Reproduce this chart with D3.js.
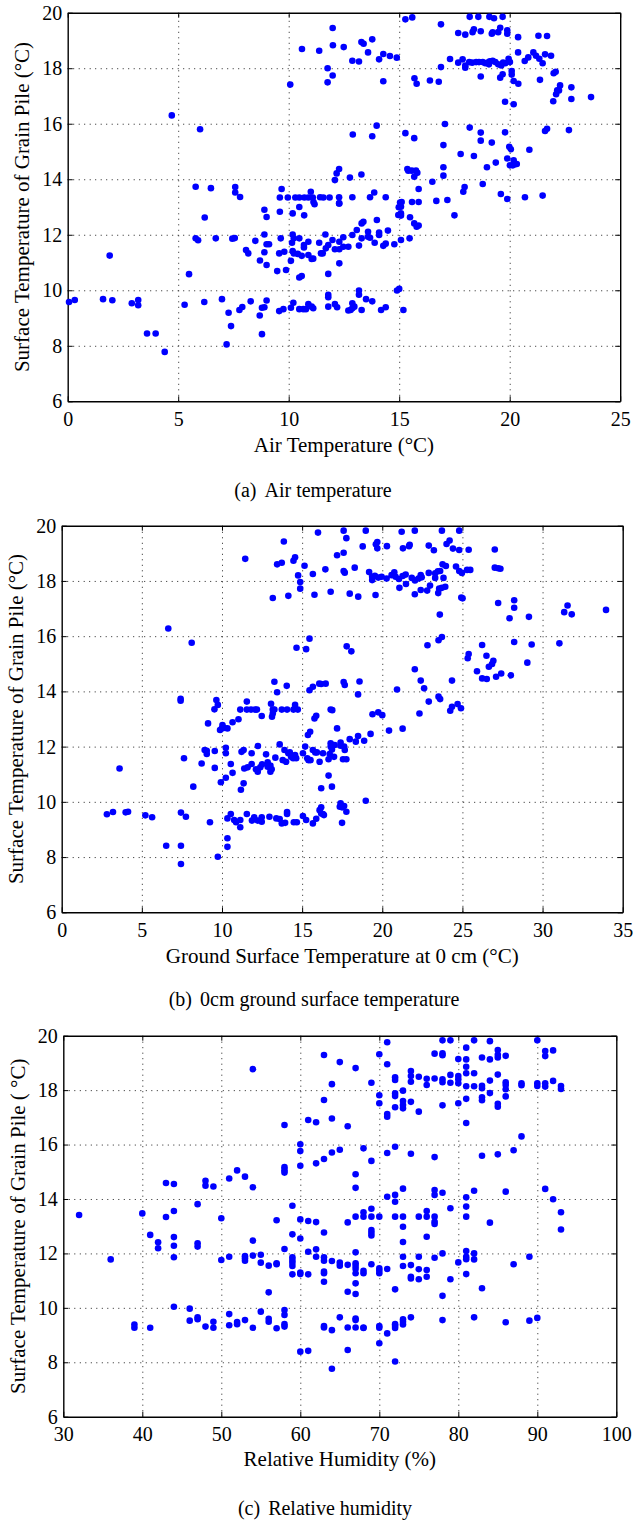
<!DOCTYPE html>
<html>
<head>
<meta charset="utf-8">
<script src="https://cdn.jsdelivr.net/npm/d3@7"></script>
<style>
  body { margin: 0; background: #fff; }
  text { font-family: "Liberation Serif", "Times New Roman", serif; fill: #000; }
</style>
</head>
<body>
<div id="chart"></div>
<script>
// tick values
const yTicks = [6, 8, 10, 12, 14, 16, 18, 20];
const airTicks = [0, 5, 10, 15, 20, 25];
const groundTicks = [0, 5, 10, 15, 20, 25, 30, 35];
const humidityTicks = [30, 40, 50, 60, 70, 80, 90, 100];

// (a) air temperature vs surface temperature of grain pile
const airPoints = [
  [4.71,16.3],[5.99,15.8],[5.79,13.73],[6.48,13.68],[7.58,13.72],[7.58,13.52],[7.8,13.36],[8.9,12.9],[9.6,12.83],
  [9.6,13.34],[9.68,13.65],[9.96,13.34],[10.3,13.34],[10.07,17.41],[10.6,18.69],[11.38,18.63],[11.76,18.0],[11.76,17.49],
  [10.18,12.77],[10.48,13.0],[10.48,13.34],[10.71,13.34],[10.89,13.34],[11.0,13.55],[11.09,13.34],[11.12,13.18],
  [11.17,13.1],[11.57,13.34],[11.85,13.34],[10.7,12.7],
  [15.28,19.76],[15.59,19.83],[16.89,19.58],[18.19,19.85],[18.58,19.85],[19.08,19.85],[19.29,19.8],[19.68,19.85],
  [11.99,19.45],[12.0,18.83],[12.49,18.76],[13.29,18.94],[13.39,18.88],[13.78,19.04],[13.59,18.57],
  [12.88,18.27],[13.18,18.24],[14.09,18.32],[14.28,18.51],[14.58,18.44],[14.89,18.38],[11.99,17.74],
  [14.28,17.53],[15.69,17.64],[15.79,17.44],[16.39,17.56],[16.79,17.51],[16.89,18.04],[17.3,18.33],
  [17.67,19.27],[17.99,19.21],[18.32,19.3],[18.38,19.4],[18.69,19.33],
  [19.19,19.24],[19.23,19.29],[19.48,19.3],[19.57,19.46],[19.89,19.37],[19.89,19.24],
  [17.67,18.2],[17.87,18.32],[17.99,18.1],[17.99,18.02],[18.17,18.22],[18.3,18.2],[18.48,18.22],[18.61,18.22],
  [18.78,18.22],[18.9,18.18],[19.0,18.2],[19.06,18.14],[19.1,18.25],[19.23,18.27],[19.35,18.22],[19.48,18.14],
  [19.62,18.1],[19.7,18.2],[19.8,18.18],[19.95,18.34],[20.01,18.22],
  [18.69,17.7],[19.57,17.66],[19.68,17.78],[20.09,17.9],[20.09,17.77],[20.18,17.54],[20.39,17.44],
  [20.38,19.12],[20.38,18.57],[21.3,19.17],[21.69,19.16],
  [20.68,18.26],[20.84,18.39],[21.07,18.57],[21.19,18.45],[21.34,18.34],[21.49,18.18],[21.6,18.5],[21.87,18.45],
  [21.37,17.58],[21.99,17.82],[22.08,17.87],[22.28,17.38],[22.23,17.2],[22.15,17.2],[22.1,17.06],[21.97,16.81],
  [22.79,17.31],[22.79,16.89],[23.68,16.96],[19.79,16.79],[20.18,16.7],
  [17.07,15.99],[18.19,15.86],[18.69,15.68],[18.69,15.39],[19.19,15.32],[19.79,15.69],[19.98,15.17],[20.05,15.08],
  [20.89,15.06],[21.6,15.74],[21.69,15.82],[22.68,15.77],
  [15.28,15.66],[15.68,15.48],[17.0,15.23],[12.9,15.61],[13.78,15.55],[13.98,15.93],
  [17.78,14.91],[18.38,14.84],
  [19.89,14.75],[20.01,14.5],[20.18,14.68],[20.24,14.54],[20.14,14.5],[20.32,14.55],
  [19.37,14.6],[18.97,14.43],[18.78,13.83],[19.6,13.47],[19.89,13.29],[20.69,13.35],[21.49,13.41],
  [16.5,13.91],[17.9,13.55],[17.96,13.72],[17.0,14.43],[17.0,14.13],[15.88,13.65],[16.68,13.22],[17.18,13.25],
  [15.37,14.37],[15.41,14.31],[15.57,14.31],[15.76,14.31],[15.68,14.09],[15.82,14.23],
  [15.04,13.16],[15.11,13.18],[15.58,13.18],[15.88,13.18],[14.98,12.99],[15.08,12.77],[17.5,12.7],
  [11.42,13.35],[12.28,13.35],[12.28,13.13],[12.88,13.35],[13.68,13.35],[13.87,13.52],[14.39,13.35],
  [12.09,13.97],[12.17,14.21],[12.28,14.37],[12.77,14.06],[13.29,14.17],
  [0.06,9.58],[0.32,9.65],[1.6,9.68],[2.02,9.64],[1.9,11.25],[2.9,9.53],[3.19,9.65],[3.19,9.46],[3.59,8.44],
  [3.98,8.44],[4.39,7.78],[5.29,9.48],[5.49,10.58],[6.18,9.58],[6.2,12.62],[5.79,11.87],[5.9,11.8],[6.7,11.87],
  [6.98,9.68],[7.45,11.86],[7.56,11.88],[7.19,8.05],[7.28,9.19],[7.39,8.71],[7.77,9.29],[7.9,9.4],[8.28,9.6],
  [8.49,11.78],[8.07,11.45],[8.17,11.33],[8.7,11.07],[8.69,9.09],[8.79,8.42],[8.79,9.37],[8.9,9.39],[9.0,9.63],
  [9.0,12.64],[8.9,12.01],[8.9,11.37],[9.0,10.91],[9.0,11.66],[9.11,11.66],[9.64,11.87],[9.57,11.33],[9.8,11.39],
  [9.48,10.69],[9.88,10.73],[9.57,9.25],[9.76,9.32],
  [10.18,12.01],[10.23,11.87],[10.15,11.71],[10.18,11.41],[10.23,11.33],[10.1,11.06],[10.41,11.31],
  [10.48,11.87],[10.69,11.63],[10.69,11.54],[10.89,11.75],[10.59,11.24],[10.48,10.46],[10.59,10.51],
  [10.1,9.37],[10.21,9.55],[10.48,9.32],[10.66,9.32],[10.78,9.32],[10.89,9.5],[11.04,9.41],[11.11,9.35],
  [10.89,11.27],[11.04,11.13],[11.11,11.14],
  [11.38,11.71],[11.46,11.33],[11.54,11.33],[11.66,12.01],[11.79,11.63],[11.79,10.59],[11.79,9.84],[11.79,9.75],[11.79,9.41],
  [12.09,9.5],[12.19,9.39],[12.29,10.97],[12.7,9.27],[12.8,9.29],[12.88,9.35],[12.97,9.41],[12.88,9.53],
  [13.18,9.99],[13.18,9.84],[13.3,9.29],[13.5,9.68],[13.78,9.6],[14.18,9.29],[14.39,9.39],[14.9,9.99],[15.0,10.05],[15.19,9.29],
  [11.68,11.51],[11.98,11.81],[12.09,11.48],[12.29,11.75],[12.29,11.48],[12.47,11.91],[12.47,11.57],
  [12.7,11.57],[12.88,11.99],[13.08,12.17],[13.18,11.61],[13.3,11.87],[13.3,12.41],[13.38,12.47],[13.59,12.11],
  [13.59,11.93],[13.68,11.89],[13.89,11.71],[13.99,12.53],[14.09,12.08],[14.09,11.99],[14.28,11.6],[14.39,11.68],
  [14.49,12.15],[14.78,11.66],[15.08,11.81],[15.47,11.87],[15.08,13.01],[14.96,12.71],[15.08,12.69],[15.49,12.63],
  [15.68,12.41],[15.79,12.29],[15.88,12.33],[12.29,13.13]
];

// (b) ground surface temperature at 0 cm vs surface temperature of grain pile
const groundPoints = [
  [6.65,16.28],[8.11,15.76],[7.42,13.73],[7.42,13.66],[9.53,13.35],[9.65,13.69],[9.74,13.51],[9.13,12.84],
  [10.03,12.78],[10.66,12.88],[11.03,12.99],[11.14,13.34],[11.55,13.63],[11.55,13.34],[11.81,13.34],[12.06,13.34],
  [12.18,13.34],[12.48,13.11],
  [11.45,18.8],[13.17,17.38],[13.44,18.6],[13.73,18.66],[13.86,19.43],[14.14,17.46],[14.46,18.73],[14.56,18.86],
  [14.75,18.2],[14.88,17.96],[14.88,17.72],[15.15,18.55],[15.99,19.75],[15.67,18.25],[15.77,17.5],[16.45,18.42],[16.78,17.61],
  [14.65,15.58],[15.25,15.53],[15.46,15.91],[13.27,14.35],[14.04,14.2],[13.44,13.97],[15.46,14.04],[15.67,14.17],
  [16.07,14.28],[16.47,14.28],
  [13.06,13.55],[13.17,13.34],[13.17,13.2],[13.27,13.34],[13.73,13.34],[14.06,13.34],[14.46,13.34],[14.56,13.51],[14.73,13.34],
  [15.77,13.02],[15.88,13.12],[16.78,13.34],
  [17.59,19.82],[18.97,19.82],[17.76,19.55],[17.18,18.93],[17.59,19.02],[18.78,19.25],[19.6,19.33],[19.69,19.41],
  [19.69,19.18],[20.29,19.26],[21.21,19.78],[22.03,19.82],[23.72,19.82],[24.8,19.82],
  [21.29,19.18],[21.67,19.26],[21.71,19.31],[22.9,19.28],[23.22,19.11],[24.01,19.34],[24.2,19.46],[24.41,19.17],
  [24.8,19.12],[25.39,19.13],[27.02,19.14],
  [17.59,18.36],[17.66,18.3],[18.28,18.48],[17.97,17.54],[18.5,17.43],[19.58,17.49],
  [19.18,18.32],[19.37,18.15],[19.37,18.03],[19.54,18.19],[19.75,18.12],[19.96,18.15],[20.27,18.09],[20.58,18.21],
  [20.75,18.31],[20.83,18.15],[21.04,18.07],[21.27,18.18],[21.46,18.23],[21.84,18.11],[22.04,18.02],[22.26,18.09],
  [22.4,18.21],[22.46,18.13],[22.9,18.29],[23.3,18.28],[23.3,18.11],[23.47,18.35],[23.61,18.36],[23.82,18.11],
  [23.76,18.6],[23.97,18.54],[24.6,18.52],[24.8,18.36],[24.97,18.29],[25.29,18.4],[25.49,18.4],
  [21.07,17.75],[21.48,17.89],[22.03,17.52],[22.4,17.67],[22.8,17.65],[22.98,17.83],[23.49,17.56],[23.55,17.72],
  [23.72,17.75],[23.93,17.79],[24.93,17.4],[25.01,17.37],
  [23.59,16.78],[27.02,18.48],[27.23,18.46],[27.37,18.44],[27.23,17.2],[28.23,17.3],[28.23,17.03],[27.94,16.65],
  [29.15,16.7],[31.35,16.87],[31.56,17.11],[31.82,16.79],[33.96,16.95],
  [17.78,15.63],[18.07,15.45],[22.82,15.67],[23.51,15.85],[23.72,15.97],
  [25.33,15.2],[25.39,15.35],[26.23,15.68],[26.5,15.29],[26.65,14.89],[26.85,14.99],[26.93,15.11],[25.91,14.73],
  [26.23,14.47],[26.52,14.45],[27.1,14.53],[27.42,14.65],[28.02,14.58],[28.23,15.79],[29.32,15.7],[29.05,15.04],[31.05,15.74],
  [16.19,14.27],[17.59,14.34],[17.66,14.23],[18.58,14.36],[18.49,13.89],[16.88,13.32],
  [19.39,13.17],[19.75,13.24],[20.0,13.14],[20.92,14.07],[22.03,14.8],[22.4,14.39],[22.61,14.11],[22.9,13.63],
  [22.32,13.2],[23.51,13.81],[23.61,13.72],[24.35,14.39],[24.24,13.3],[24.35,13.44],[24.7,13.54],[24.91,13.39],
  [2.82,9.55],[3.2,9.63],[3.61,11.21],[3.99,9.62],[4.14,9.64],[5.22,9.51],[5.64,9.44],[6.52,8.41],[7.44,8.41],
  [7.44,7.75],[7.44,9.61],[7.75,9.46],[7.63,11.58],[8.21,10.55],[8.73,11.39],[8.92,11.88],[9.05,11.73],[9.05,11.85],
  [9.55,11.84],[9.55,11.23],[9.25,9.26],[9.74,8.01],[9.88,12.6],[9.99,12.66],[10.13,12.68],[10.34,12.66],
  [10.24,11.96],[10.24,11.76],[9.93,10.71],[10.24,10.87],[10.34,8.68],[10.34,8.37],
  [10.34,9.4],[10.55,9.56],[10.76,9.34],[10.88,9.26],[11.14,9.08],[11.14,9.34],[11.55,9.56],
  [10.55,11.37],[10.66,11.05],[11.18,10.44],[11.35,10.67],
  [11.22,11.81],[11.35,11.88],[11.39,11.21],[11.6,11.25],[11.85,11.37],[11.85,11.76],[12.12,11.18],[12.24,12.02],
  [12.23,11.09],[12.39,11.25],[12.5,11.36],[12.75,11.72],[12.85,11.43],[12.85,11.27],[13.02,11.31],[13.02,11.09],
  [13.1,11.18],[13.12,13.08],
  [11.87,9.32],[12.01,9.44],[12.23,9.32],[12.48,9.44],[12.48,9.28],[12.96,9.46],[13.39,9.4],[13.6,9.38],[13.73,9.22],
  [13.94,9.24],[14.06,9.63],[14.06,9.56],[14.48,9.26],[14.67,9.26],[15.05,9.49],[15.25,9.34],[15.67,9.22],[15.88,9.39],
  [16.09,9.7],[16.19,9.58],[16.36,9.52],
  [13.33,11.6],[13.6,12.08],[13.79,11.51],[14.0,11.45],[13.9,11.88],[14.14,11.76],[14.23,11.79],[14.31,11.63],
  [14.44,11.58],[14.56,11.69],[14.63,11.58],[15.05,11.76],[15.19,12.0],[15.32,11.58],[15.4,11.51],[15.52,11.51],
  [15.67,11.88],[15.82,11.79],[15.92,11.79],[16.09,11.45],[16.3,11.76],[15.36,12.42],[15.5,12.54],
  [17.18,12.66],[20.42,12.58],[21.27,12.65],
  [17.97,12.27],[18.35,12.18],[18.49,12.38],[18.87,12.21],[19.27,12.46],
  [16.78,12.12],[16.78,12.0],[17.03,12.06],[17.4,12.15],[17.4,12.03],[17.62,12.0],[17.66,11.88],[16.86,11.9],
  [16.72,11.73],[16.99,11.63],[16.65,11.54],[17.55,11.54],[17.76,11.54],
  [16.65,10.95],[16.86,10.55],[16.19,10.49],[18.97,10.04],[17.4,9.95],[17.49,9.8],[17.35,9.82],[17.76,9.64],
  [17.62,9.85],[17.49,9.24],[16.19,9.8],[16.3,9.56]
];

// (c) relative humidity vs surface temperature of grain pile
const humidityPoints = [
  [32,13.41],[40,13.47],[41,12.68],[43,14.59],[43,13.34],[44,14.55],[44,13.56],[47,13.81],[48,14.67],[48,14.49],
  [49,14.46],[50,13.29],[51,14.75],[52,15.05],[53,14.82],[54,14.43],[54,18.77],[57,13.22],[58,16.72],[58,15.17],
  [58,15.06],[58,14.97],[59,13.75],[59,12.7],[60,16.01],[60,15.76],[60,15.22],[60,13.25],[61,16.9],[61,13.19],
  [62,16.82],[62,15.31],[62,13.15],[63,19.29],[63,17.64],[63,15.47],[63,12.77],[64,18.22],[64,16.96],[64,15.71],
  [65,19.03],[67,18.81],[69,18.27],[70,19.32],[71,19.76],[71,18.95],[70,17.81],[70,17.52],[72,18.47],[72,18.37],
  [72,17.88],[72,17.78],[72,17.37],[71,17.12],[71,17.02],[73,17.98],[73,17.6],[73,17.45],[73,17.33],[74,18.7],
  [74,18.52],[74,18.31],[74,17.57],[75,18.49],[75,17.21],[76,18.42],[76,18.19],[77,19.34],[77,18.43],[78,19.83],
  [78,19.35],[78,19.28],[78,18.4],[78,18.29],[78,17.44],[79,19.83],[79,18.56],[79,18.27],[80,19.14],[80,18.52],
  [80,18.4],[80,18.25],[80,17.52],[81,19.56],[81,19.13],[81,18.86],[81,18.62],[81,18.14],[81,17.68],[81,16.79],
  [82,19.83],[82,18.62],[82,18.14],[83,19.2],[83,18.16],[83,18.07],[83,17.74],[83,17.63],[84,19.8],[84,19.13],
  [84,18.35],[84,17.89],[85,19.47],[85,19.3],[85,19.2],[85,18.57],[85,17.5],[85,17.39],[86,19.26],[86,18.29],
  [86,18.19],[86,18.03],[86,17.77],[88,18.25],[88,18.18],[90,19.83],[90,18.25],[90,18.15],[91,18.25],[91,18.13],
  [92,18.34],[93,18.15],[93,18.04],[91,19.44],[91,19.25],[92,19.46],
  [88,16.3],[87,15.79],[85,15.64],[83,15.59],[77,15.54],[74,15.66],[72,15.92],[71,15.69],[66,16.67],[65,15.81],
  [68,15.86],[69,15.4],[67,14.91],[67,14.41],[66,13.14],[67,13.35],[68,13.51],[68,13.35],[69,13.64],[69,13.35],
  [70,13.35],[71,14.08],[72,14.15],[72,13.9],[73,14.38],[72,13.35],[73,13.35],[73,12.98],[75,13.35],[76,13.56],
  [76,13.35],[77,14.33],[77,14.15],[77,13.35],[77,13.16],[77,13.08],[78,14.23],[79,13.66],[81,14.06],[81,13.72],
  [81,13.35],[82,14.3],[84,13.13],[86,14.27],[91,14.37],[92,13.99],[93,13.51],[93,12.88],
  [36,11.78],[39,9.39],[39,9.27],[41,9.27],[42,12.41],[42,12.19],[44,12.6],[44,12.28],[44,11.86],[44,10.04],
  [46,9.97],[46,9.53],[47,12.37],[47,12.25],[47,9.65],[47,9.58],[48,9.31],[49,9.49],[49,9.27],[50,11.76],
  [51,11.88],[51,9.77],[51,9.36],[52,9.48],[52,9.4],[53,11.9],[53,11.82],[53,11.73],[53,9.55],[54,12.47],
  [54,11.92],[54,9.27],[55,11.95],[55,11.66],[55,9.86],[56,11.55],[56,10.57],[56,9.6],[56,9.49],[57,11.64],
  [57,11.6],[57,9.25],[58,9.92],[58,9.74],[58,9.4],[58,9.31],[58,12.16],[59,11.86],[59,11.76],[59,11.66],
  [59,11.54],[59,11.23],[60,12.55],[60,11.3],[60,11.24],[60,8.39],[61,12.06],[61,11.23],[61,8.42],[62,12.15],
  [62,11.88],[63,11.86],[63,11.73],[63,11.33],[63,11.27],[63,10.96],[63,9.33],[63,9.28],
  [64,11.72],[65,11.66],[65,11.55],[66,11.58],[66,10.59],[67,12.04],[67,11.64],[67,11.54],[67,11.43],[67,11.27],
  [67,10.9],[67,10.51],[68,11.36],[68,11.27],[69,12.86],[69,12.76],[69,12.66],[69,11.6],[70,11.45],[70,11.36],
  [70,11.27],[71,11.43],[72,10.68],[73,12.42],[73,11.88],[73,11.54],[74,11.57],[74,11.14],[74,11.08],[75,11.88],
  [75,11.42],[75,11.05],[76,12.61],[76,11.39],[76,11.14],[77,11.84],[78,12.0],[78,10.44],[78,9.55],[79,11.05],
  [80,11.67],[81,12.09],[81,11.88],[81,11.79],[81,11.24],[82,12.0],[82,11.78],[82,9.65],[83,10.72],[87,11.6],
  [89,11.88],[86,9.47],[89,9.53],[90,9.63],[64,9.18],[65,9.65],[66,9.28],[66,8.45],[67,9.61],[67,9.55],
  [67,9.28],[68,9.28],[68,9.26],[70,9.33],[70,9.27],[70,8.7],[71,9.06],[72,9.4],[72,9.33],[72,9.26],
  [72,8.03],[73,9.58],[73,9.49],[73,9.39],[74,9.65],[64,7.76]
];

const FONT = '"Liberation Serif", "Times New Roman", serif';

class ScatterPanel {
  constructor(_data, _svg, _config) {
    this.data = _data;
    this.svg = _svg;
    this.config = _config;
    this.initVis();
  }

  initVis() {
    let vis = this;
    let c = vis.config;

    vis.g = vis.svg.append('g')
      .attr('transform', `translate(${c.left}, ${c.top})`);

    vis.x = d3.scaleLinear().domain(c.xDomain).range([0, c.width]);
    vis.y = d3.scaleLinear().domain([6, 20]).range([c.height, 0]);

    // dotted grid at the inner ticks
    vis.g.append('g')
      .attr('class', 'grid')
      .attr('transform', `translate(0, ${c.height})`)
      .call(d3.axisBottom(vis.x).tickValues(c.xTicks.slice(1, -1)).tickSize(-c.height).tickFormat(''))
      .call(g => g.select('.domain').remove());
    vis.g.append('g')
      .attr('class', 'grid')
      .call(d3.axisLeft(vis.y).tickValues(yTicks.slice(1, -1)).tickSize(-c.width).tickFormat(''))
      .call(g => g.select('.domain').remove());
    vis.g.selectAll('.grid line')
      .attr('stroke', '#222')
      .attr('stroke-width', 1)
      .attr('stroke-dasharray', '1,4.5');

    // axes with inward ticks on all four sides
    vis.g.append('g')
      .attr('class', 'axis')
      .attr('transform', `translate(0, ${c.height})`)
      .call(d3.axisBottom(vis.x).tickValues(c.xTicks).tickSize(-5).tickSizeOuter(0).tickPadding(10.5));
    vis.g.append('g')
      .attr('class', 'axis')
      .call(d3.axisLeft(vis.y).tickValues(yTicks).tickSize(-5).tickSizeOuter(0).tickPadding(5.5));
    vis.g.append('g')
      .attr('class', 'axis')
      .call(d3.axisTop(vis.x).tickValues(c.xTicks).tickSize(-5).tickSizeOuter(0).tickFormat(''));
    vis.g.append('g')
      .attr('class', 'axis')
      .attr('transform', `translate(${c.width}, 0)`)
      .call(d3.axisRight(vis.y).tickValues(yTicks).tickSize(-5).tickSizeOuter(0).tickFormat(''));

    vis.g.selectAll('.axis')
      .attr('font-family', FONT)
      .attr('font-size', 20);
    vis.g.selectAll('.axis .domain').attr('stroke', '#000').attr('stroke-width', 1.4);
    vis.g.selectAll('.axis .tick line').attr('stroke', '#000');
    vis.g.selectAll('.axis text').attr('fill', '#000');

    // axis titles and caption
    vis.svg.append('text')
      .attr('x', c.left + c.width / 2)
      .attr('y', c.xLabelY)
      .style('font-size', '21px')
      .style('text-anchor', 'middle')
      .text(c.xLabel);
    vis.svg.append('text')
      .attr('transform', `translate(${c.yLabelX}, ${c.top + c.height / 2}) rotate(-90)`)
      .style('font-size', '21px')
      .style('text-anchor', 'middle')
      .text(c.yLabel);
    let cap = vis.svg.append('text')
      .attr('x', c.captionX)
      .attr('y', c.captionY)
      .style('font-size', '20px')
      .style('text-anchor', 'middle');
    cap.append('tspan').text(c.caption[0]);
    cap.append('tspan').attr('dx', 8).text(c.caption[1]);

    vis.renderVis();
  }

  renderVis() {
    let vis = this;
    vis.g.append('g')
      .selectAll('circle')
      .data(vis.data)
      .join('circle')
      .attr('cx', d => vis.x(d[0]))
      .attr('cy', d => vis.y(d[1]))
      .attr('r', 3.3)
      .attr('fill', '#0000ff');
  }
}

const svg = d3.select('#chart')
  .append('svg')
  .attr('width', 633)
  .attr('height', 1523);

new ScatterPanel(airPoints, svg, {
  left: 67.7, top: 12.7, width: 552.5, height: 388.6,
  xDomain: [0, 25], xTicks: airTicks,
  xLabel: 'Air Temperature (°C)', xLabelY: 452,
  yLabel: 'Surface Temperature of Grain Pile (°C)', yLabelX: 29,
  caption: ['(a)', 'Air temperature'], captionX: 313, captionY: 497
});
new ScatterPanel(groundPoints, svg, {
  left: 61.7, top: 525.7, width: 561, height: 386.6,
  xDomain: [0, 35], xTicks: groundTicks,
  xLabel: 'Ground Surface Temperature at 0 cm (°C)', xLabelY: 963,
  yLabel: 'Surface Temperature of Grain Pile (°C)', yLabelX: 23,
  caption: ['(b)', '0cm ground surface temperature'], captionX: 314, captionY: 1006
});
new ScatterPanel(humidityPoints, svg, {
  left: 63.3, top: 1035.7, width: 553, height: 381,
  xDomain: [30, 100], xTicks: humidityTicks,
  xLabel: 'Relative Humidity (%)', xLabelY: 1466,
  yLabel: 'Surface Temperature of Grain Pile ( °C)', yLabelX: 25,
  caption: ['(c)', 'Relative humidity'], captionX: 325, captionY: 1515
});
</script>
</body>
</html>
